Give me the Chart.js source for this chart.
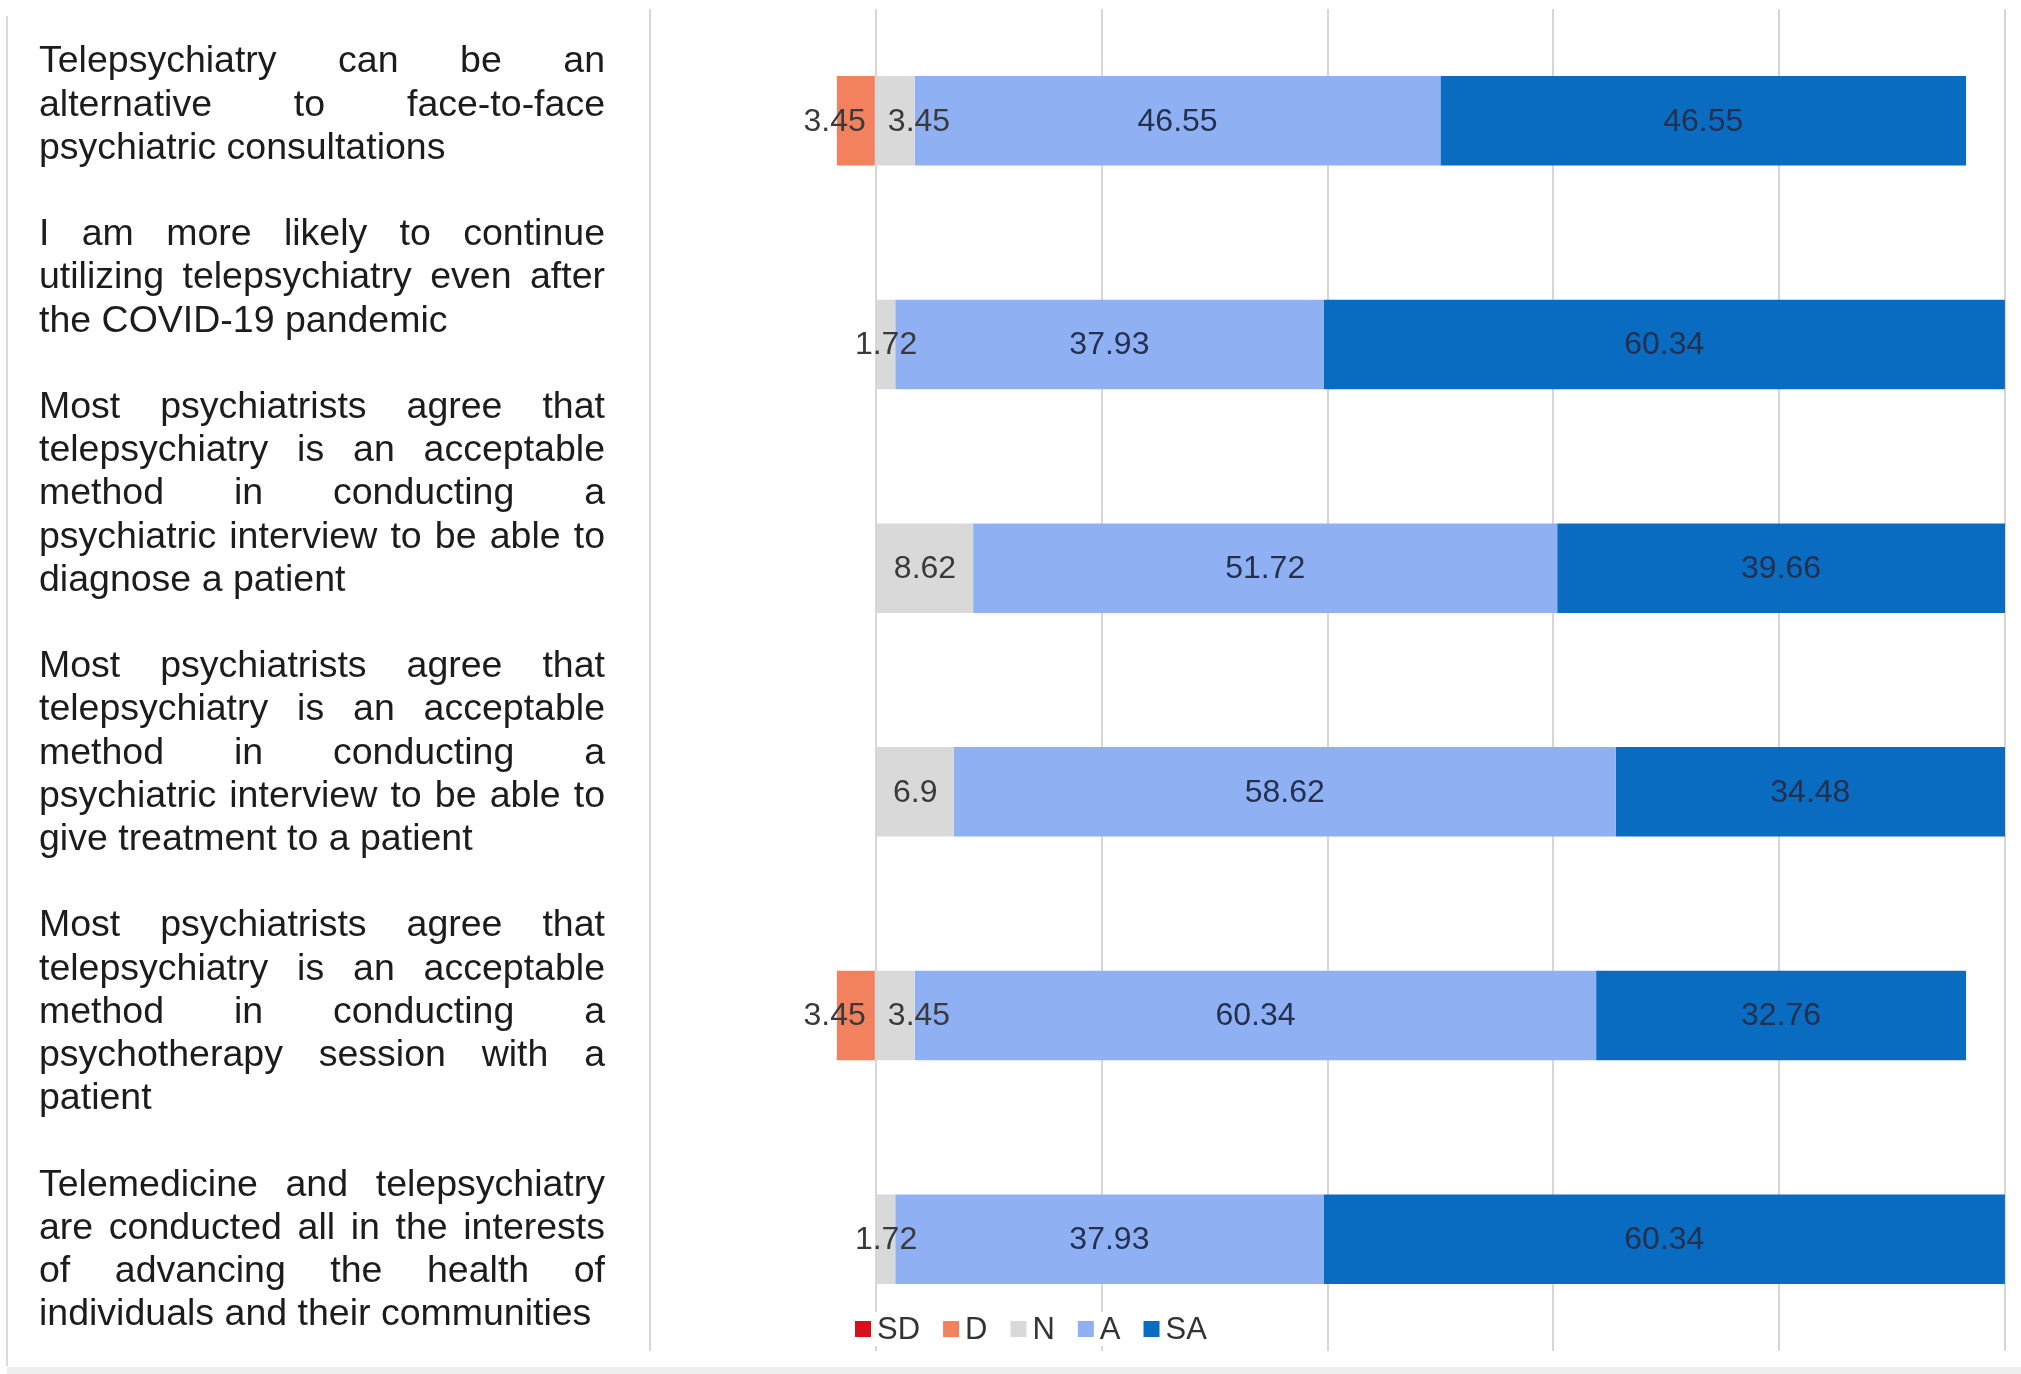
<!DOCTYPE html>
<html>
<head>
<meta charset="utf-8">
<script src="https://cdn.jsdelivr.net/npm/chart.js@4.4.1/dist/chart.umd.min.js"></script>
<style>
  html, body { margin: 0; padding: 0; background: #ffffff; }
  #wrap { width: 2021px; height: 1374px; position: relative; }
</style>
</head>
<body>
<div id="wrap"><canvas id="chart" width="2021" height="1374"></canvas></div>
<script>
// Survey statements (one entry per line of the wrapped, justified text)
const statements = [
  ["Telepsychiatry can be an", "alternative to face-to-face", "psychiatric consultations"],
  ["I am more likely to continue", "utilizing telepsychiatry even after", "the COVID-19 pandemic"],
  ["Most psychiatrists agree that", "telepsychiatry is an acceptable", "method in conducting a",
   "psychiatric interview to be able to", "diagnose a patient"],
  ["Most psychiatrists agree that", "telepsychiatry is an acceptable", "method in conducting a",
   "psychiatric interview to be able to", "give treatment to a patient"],
  ["Most psychiatrists agree that", "telepsychiatry is an acceptable", "method in conducting a",
   "psychotherapy session with a", "patient"],
  ["Telemedicine and telepsychiatry", "are conducted all in the interests",
   "of advancing the health of", "individuals and their communities"]
];

// Likert responses, percent of respondents
const responseKeys = ["SD", "D", "N", "A", "SA"];
const stronglyDisagree = [0, 0, 0, 0, 0, 0];
const disagree         = [3.45, 0, 0, 0, 3.45, 0];
const neutral          = [3.45, 1.72, 8.62, 6.9, 3.45, 1.72];
const agree            = [46.55, 37.93, 51.72, 58.62, 60.34, 37.93];
const stronglyAgree    = [46.55, 60.34, 39.66, 34.48, 32.76, 60.34];

const colors = ["#d8101c", "#f2825e", "#d9d9d9", "#8fb1f3", "#0a6cc0"];
const FONT = '"Liberation Sans", Arial, Helvetica, sans-serif';

// disagreement is drawn to the left of zero
const series = [
  stronglyDisagree.map(v => -v),
  disagree.map(v => -v),
  neutral, agree, stronglyAgree
];

const datasets = responseKeys.map((k, i) => ({
  label: k,
  data: series[i],
  backgroundColor: colors[i],
  borderWidth: 0,
  barPercentage: 0.4,
  categoryPercentage: 1.0,
  stack: "s"
}));

// white page, outer frame of the table
const framePlugin = {
  id: "frame",
  beforeDraw(chart) {
    const ctx = chart.ctx;
    ctx.save();
    ctx.fillStyle = "#ffffff";
    ctx.fillRect(0, 0, chart.width, chart.height);
    ctx.strokeStyle = "#dcdcdc";
    ctx.lineWidth = 2;
    ctx.beginPath();
    ctx.moveTo(7, 16); ctx.lineTo(7, 1366);
    ctx.stroke();
    ctx.fillStyle = "#eeeeee";
    ctx.fillRect(7, 1367, chart.width - 7, 7);
    ctx.restore();
  }
};

// justified statement text in the left column
const statementPlugin = {
  id: "statements",
  afterDraw(chart) {
    const ctx = chart.ctx;
    const left = 39, right = 605, firstLine = 62, step = 43.2;
    ctx.save();
    ctx.font = "37.5px " + FONT;
    ctx.fillStyle = "#1c1c1c";
    ctx.textBaseline = "middle";
    ctx.textAlign = "left";
    let row = 0;
    chart.data.labels.forEach(lines => {
      lines.forEach((line, li) => {
        const y = firstLine + row * step;
        const words = line.split(" ");
        const last = li === lines.length - 1;
        if (last || words.length === 1) {
          ctx.fillText(line, left, y);
        } else {
          const widths = words.map(w => ctx.measureText(w).width);
          const total = widths.reduce((a, b) => a + b, 0);
          const gap = (right - left - total) / (words.length - 1);
          let x = left;
          words.forEach((w, wi) => {
            ctx.fillText(w, x, y);
            x += widths[wi] + gap;
          });
        }
        row++;
      });
      row++; // blank line between statements
    });
    ctx.restore();
  }
};

// value labels in the bar segments
const valuePlugin = {
  id: "values",
  afterDatasetsDraw(chart) {
    const ctx = chart.ctx;
    const zero = chart.scales.x.getPixelForValue(0);
    ctx.save();
    ctx.font = "32px " + FONT;
    ctx.textBaseline = "middle";
    chart.data.datasets.forEach((ds, di) => {
      const meta = chart.getDatasetMeta(di);
      meta.data.forEach((bar, i) => {
        const v = Math.abs(ds.data[i]);
        if (!v) return;
        const text = String(v);
        const tw = ctx.measureText(text).width;
        const segW = Math.abs(bar.x - bar.base);
        let x = (bar.x + bar.base) / 2;
        let align = "center";
        const crowded = Math.abs(chart.data.datasets[1].data[i]) > 0 && segW < tw;
        if (crowded && di === 1) { align = "right"; x = zero - 10; }
        else if (crowded && di === 2) { align = "left"; x = zero + 12; }
        ctx.textAlign = align;
        ctx.fillStyle = di >= 3 ? "#23304f" : "#3a3a3a";
        ctx.fillText(text, x, bar.y + 1);
      });
    });
    ctx.restore();
  }
};

// compact legend laid over the bottom of the plot
const legendPlugin = {
  id: "keyRow",
  afterDraw(chart) {
    const ctx = chart.ctx;
    let x = 855;
    const y = 1329, sq = 16;
    ctx.save();
    ctx.font = "31px " + FONT;
    ctx.textBaseline = "middle";
    ctx.textAlign = "left";
    chart.data.datasets.forEach(ds => {
      const tw = ctx.measureText(ds.label).width;
      ctx.fillStyle = "#ffffff";
      ctx.fillRect(x - 2, y - 17, sq + 6 + tw + 4, 34);
      ctx.fillStyle = ds.backgroundColor;
      ctx.fillRect(x, y - sq / 2, sq, sq);
      ctx.fillStyle = "#333333";
      ctx.fillText(ds.label, x + sq + 6, y + 1);
      x += sq + 6 + tw + 23;
    });
    ctx.restore();
  }
};

new Chart(document.getElementById("chart"), {
  type: "bar",
  data: { labels: statements, datasets },
  options: {
    indexAxis: "y",
    responsive: false,
    animation: false,
    devicePixelRatio: 1,
    layout: { padding: { left: 650, right: 16, top: 9, bottom: 23 } },
    plugins: { legend: { display: false }, tooltip: { enabled: false } },
    scales: {
      x: {
        stacked: true,
        min: -20,
        max: 100,
        ticks: { display: false, stepSize: 20 },
        grid: { color: "#d6d6d6", lineWidth: 2, drawTicks: false },
        border: { display: false }
      },
      y: { stacked: true, display: false }
    }
  },
  plugins: [framePlugin, valuePlugin, statementPlugin, legendPlugin]
});
</script>
</body>
</html>
